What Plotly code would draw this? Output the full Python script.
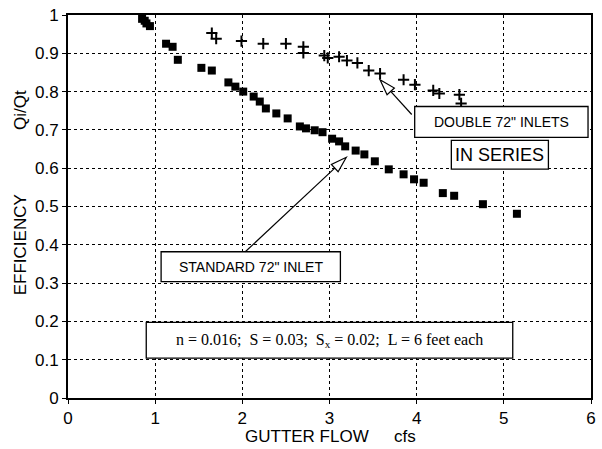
import math
import plotly.graph_objects as go

# ---- data ----
std_x = [0.85, 0.88, 0.90, 0.94, 1.125, 1.20, 1.26, 1.53, 1.65, 1.84, 1.92, 2.01, 2.13, 2.20,
         2.27, 2.39, 2.52, 2.66, 2.73, 2.83, 2.92, 3.03, 3.11, 3.18, 3.30, 3.40, 3.52, 3.68,
         3.85, 3.97, 4.08, 4.30, 4.43, 4.76, 5.15]
std_y = [0.990, 0.985, 0.978, 0.971, 0.925, 0.917, 0.883, 0.862, 0.855, 0.824, 0.813, 0.800,
         0.787, 0.774, 0.756, 0.743, 0.730, 0.709, 0.704, 0.699, 0.694, 0.677, 0.670, 0.657,
         0.646, 0.636, 0.618, 0.597, 0.584, 0.571, 0.562, 0.535, 0.528, 0.506, 0.481]

dbl_x = [1.65, 1.70, 1.99, 2.24, 2.50, 2.70, 2.70, 2.94, 2.98, 3.11, 3.20, 3.32, 3.45, 3.58,
         3.85, 3.98, 4.19, 4.26, 4.49, 4.51]
dbl_y = [0.953, 0.938, 0.932, 0.925, 0.925, 0.917, 0.901, 0.894, 0.888, 0.891, 0.881, 0.875,
         0.855, 0.847, 0.831, 0.818, 0.803, 0.795, 0.792, 0.769]

x_ticks = [0, 1, 2, 3, 4, 5, 6]
y_ticks = [0, 0.1, 0.2, 0.3, 0.4, 0.5, 0.6, 0.7, 0.8, 0.9, 1]
y_tick_text = ["0", "0.1", "0.2", "0.3", "0.4", "0.5", "0.6", "0.7", "0.8", "0.9", "1"]

# ---- layout geometry ----
W, H = 602, 449
ML, MR, MT, MB = 68, 6, 13, 51
PW, PH = W - ML - MR, H - MT - MB
XR, YR = (0, 6), (0, 1)


def px2d(px, py):
    return (XR[0] + (px - ML) / PW * (XR[1] - XR[0]),
            YR[0] + (H - MB - py) / PH * (YR[1] - YR[0]))


SANS = "Liberation Sans, Arial, sans-serif"
SERIF = "Liberation Serif, Times New Roman, serif"

fig = go.Figure()
fig.add_trace(go.Scatter(x=std_x, y=std_y, mode="markers", name="STANDARD 72\" INLET",
                         marker=dict(symbol="square", size=8, color="black")))
fig.add_trace(go.Scatter(x=dbl_x, y=dbl_y, mode="markers", name="DOUBLE 72\" INLETS",
                         marker=dict(symbol="cross-thin", size=8,
                                     line=dict(color="black", width=2))))

shapes = []
annotations = []


def box(px0, py0, px1, py1, text, size, font=SANS):
    x0, y0 = px2d(px0, py1)
    x1, y1 = px2d(px1, py0)
    shapes.append(dict(type="rect", xref="x", yref="y", x0=x0, y0=y0, x1=x1, y1=y1,
                       fillcolor="white", line=dict(color="black", width=1.3), layer="above"))
    annotations.append(dict(x=(x0 + x1) / 2, y=(y0 + y1) / 2, xref="x", yref="y", text=text,
                            showarrow=False, font=dict(family=font, size=size, color="black")))


def arrow(tail, tip, length=16, half=5):
    (tx, ty), (hx, hy) = tail, tip
    dx, dy = hx - tx, hy - ty
    L = math.hypot(dx, dy)
    ux, uy = dx / L, dy / L
    bx, by = hx - ux * length, hy - uy * length
    nx, ny = -uy, ux
    p1 = (bx + nx * half, by + ny * half)
    p2 = (bx - nx * half, by - ny * half)
    a = px2d(tx, ty)
    b = px2d(bx, by)
    shapes.append(dict(type="line", xref="x", yref="y", x0=a[0], y0=a[1], x1=b[0], y1=b[1],
                       line=dict(color="black", width=1.2), layer="above"))
    pts = [px2d(hx, hy), px2d(*p1), px2d(*p2)]
    path = "M {},{} L {},{} L {},{} Z".format(*[c for p in pts for c in p])
    shapes.append(dict(type="path", xref="x", yref="y", path=path, fillcolor="white",
                       line=dict(color="black", width=1.2), layer="above"))


box(418, 105, 593, 136, "DOUBLE 72\" INLETS", 14)
box(455, 139, 553, 168, "IN SERIES", 18)
box(162, 251, 343, 281, "STANDARD 72\" INLET", 14)
box(147, 322, 517, 358,
    "n = 0.016;  S = 0.03;  S<sub>x</sub> = 0.02;  L = 6 feet each", 16, SERIF)

arrow((415, 113), (383, 78))
arrow((247, 251), (349, 156))

# y-axis title pieces (rotated)
title_px = (20 - ML) / PW
ya, yb = px2d(0, 108), px2d(0, 244)
annotations.append(dict(x=title_px, y=yb[1], xref="paper", yref="y", xanchor="center",
                        yanchor="middle", text="EFFICIENCY", textangle=-90, showarrow=False,
                        font=dict(family=SANS, size=17, color="black")))
annotations.append(dict(x=title_px, y=ya[1], xref="paper", yref="y", xanchor="center",
                        yanchor="middle", text="Qi/Qt", textangle=-90, showarrow=False,
                        font=dict(family=SANS, size=17, color="black")))
# x-axis title pieces
xa, xb = px2d(309, 0), px2d(408, 0)
annotations.append(dict(x=xa[0], y=0, xref="x", yref="paper", yanchor="top", yshift=-27,
                        text="GUTTER FLOW", showarrow=False,
                        font=dict(family=SANS, size=17, color="black")))
annotations.append(dict(x=xb[0], y=0, xref="x", yref="paper", yanchor="top", yshift=-27,
                        text="cfs", showarrow=False,
                        font=dict(family=SANS, size=17, color="black")))

fig.update_layout(
    width=W, height=H, margin=dict(l=ML, r=MR, t=MT, b=MB, pad=0),
    paper_bgcolor="white", plot_bgcolor="white", showlegend=False,
    shapes=shapes, annotations=annotations,
    font=dict(family=SANS, size=17, color="black"),
)
fig.update_xaxes(range=list(XR), tickvals=x_ticks, ticks="outside", ticklen=4, tickwidth=1,
                 tickcolor="black", showline=True, linecolor="black", linewidth=2, mirror=True,
                 showgrid=True, gridcolor="black", gridwidth=1, griddash="dot", zeroline=False,
                 tickfont=dict(family=SANS, size=17, color="black"))
fig.update_yaxes(range=list(YR), tickvals=y_ticks, ticktext=y_tick_text, ticks="outside",
                 ticklen=4, tickwidth=1, tickcolor="black", showline=True, linecolor="black",
                 linewidth=2, mirror=True, showgrid=True, gridcolor="black", gridwidth=1,
                 griddash="dot", zeroline=False,
                 tickfont=dict(family=SANS, size=17, color="black"))

fig.write_html("out.html")
